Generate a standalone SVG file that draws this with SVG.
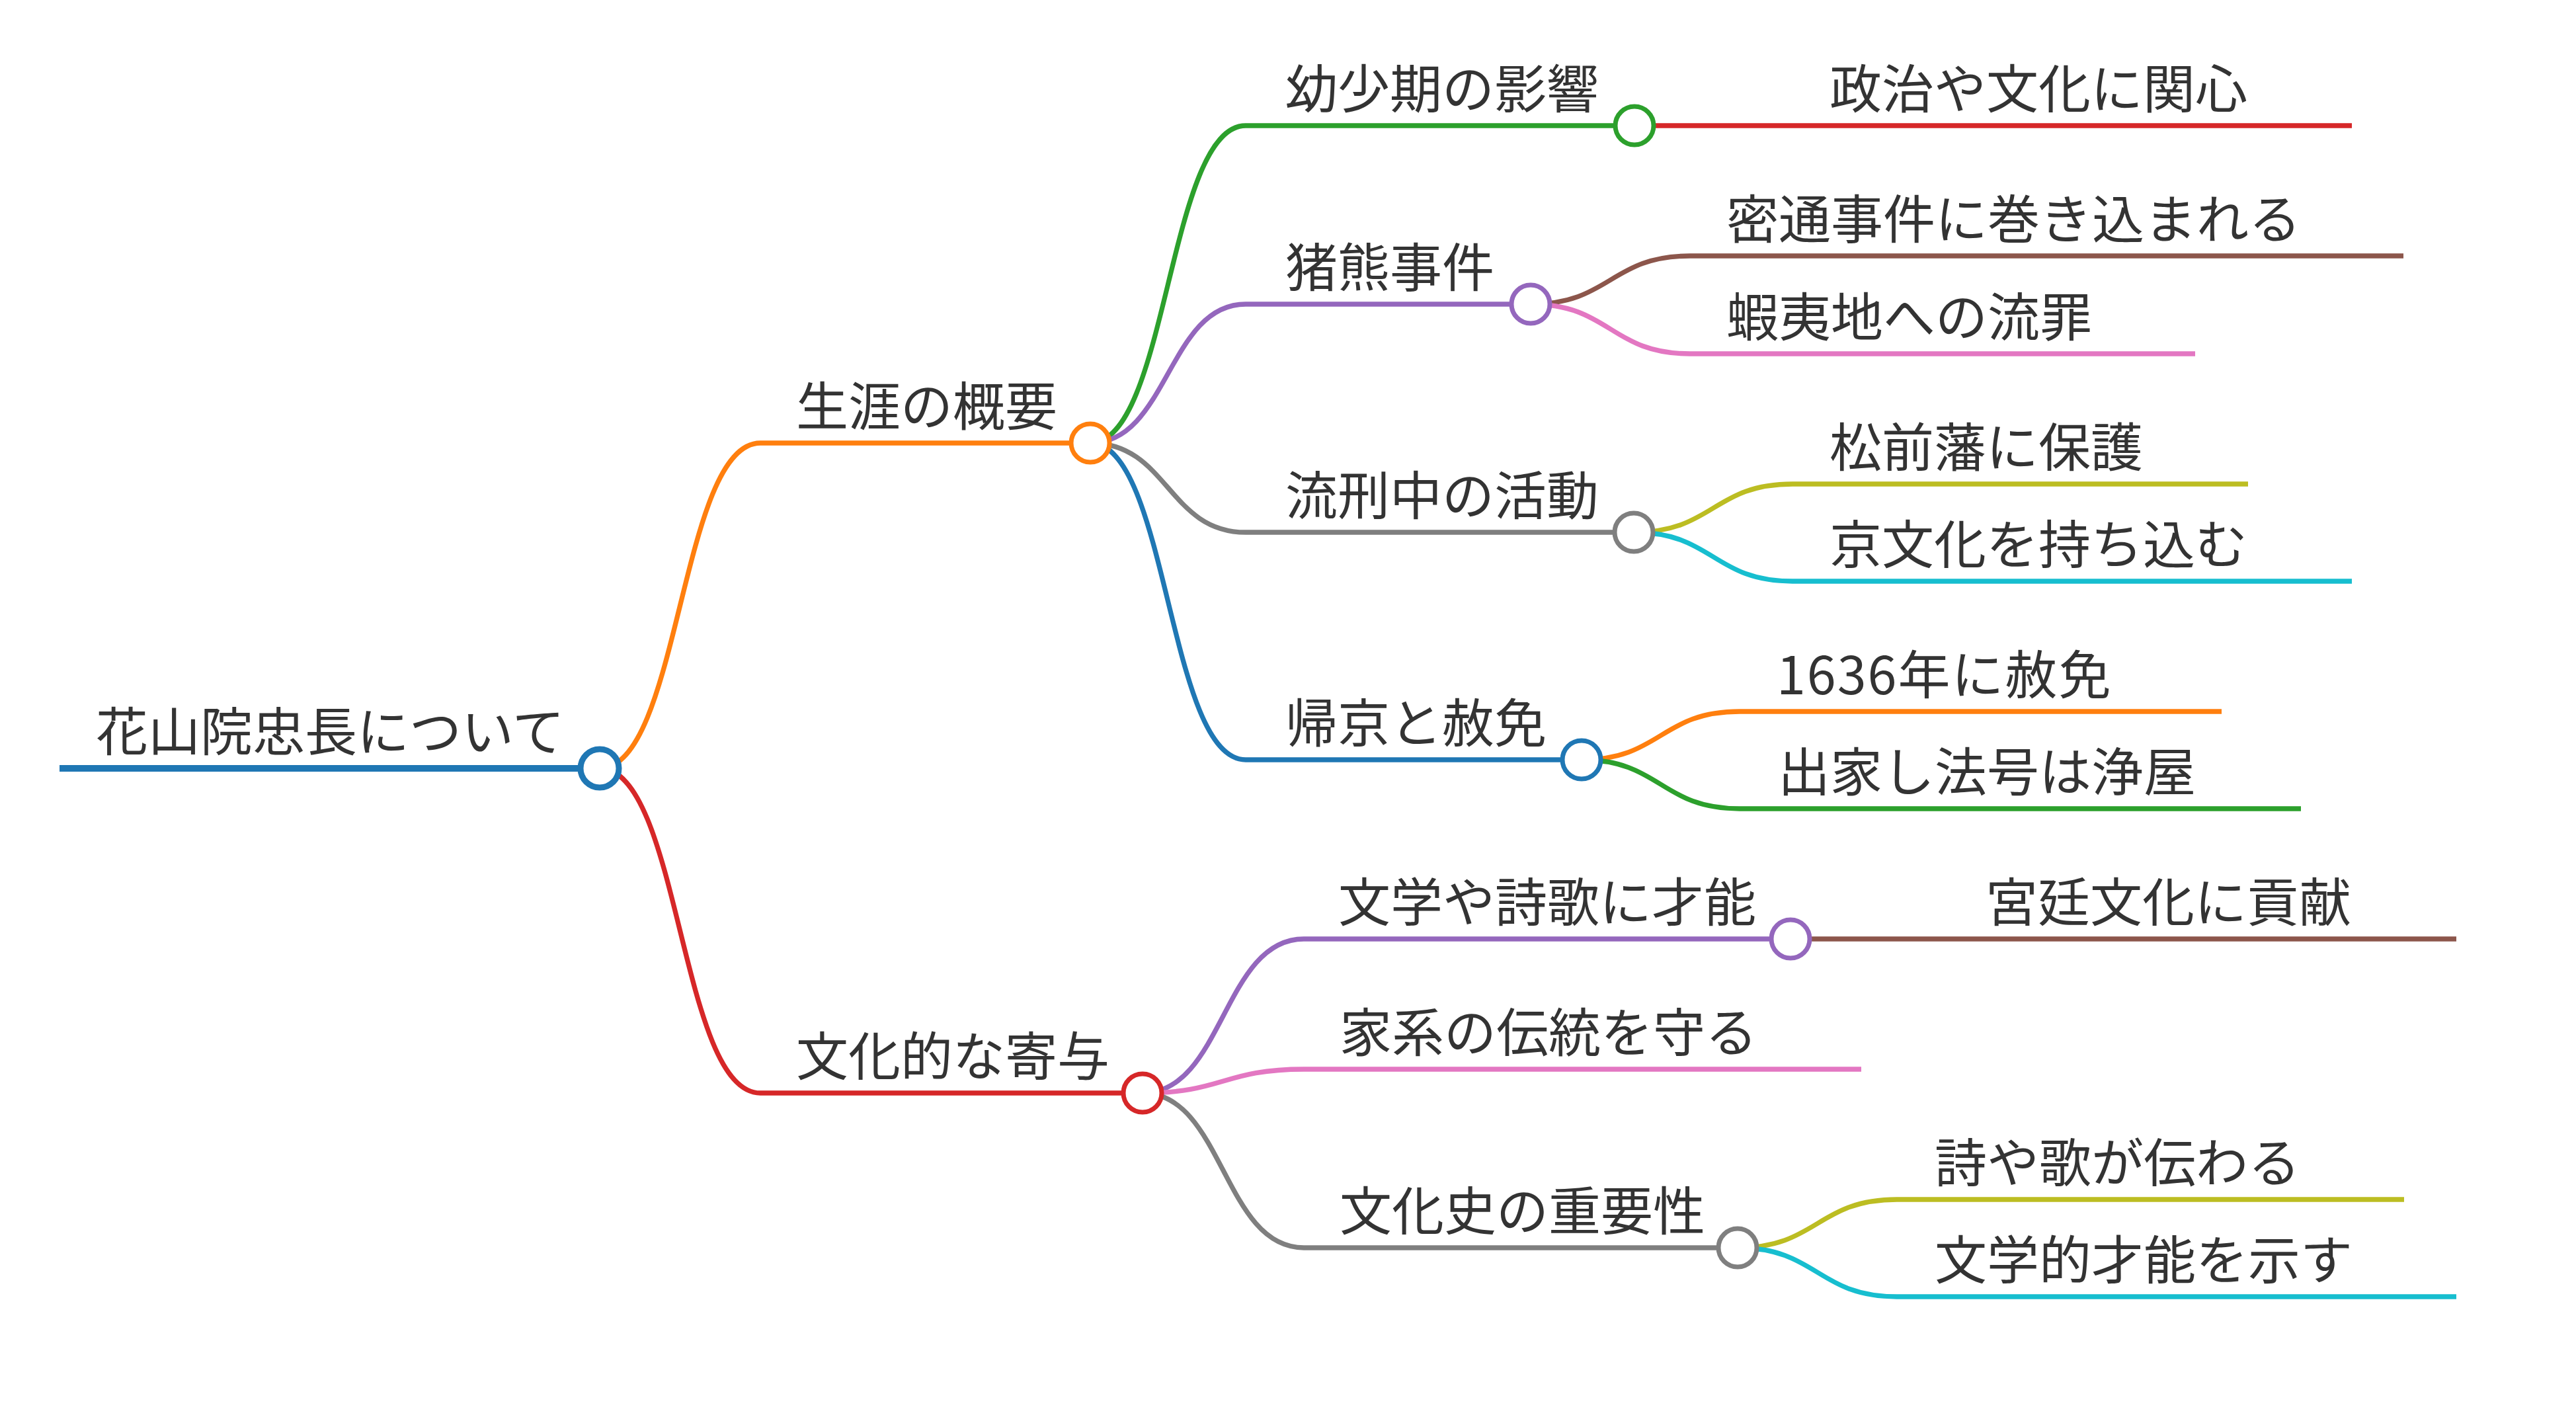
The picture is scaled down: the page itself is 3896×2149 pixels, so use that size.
<svg xmlns="http://www.w3.org/2000/svg" width="3896" height="2149" viewBox="0 0 3896 2149">
<style>
text{font-family:"Noto Sans CJK JP","Noto Sans CJK SC",sans-serif;font-size:79px;fill:#333333}
.ln{fill:none;stroke-width:7.3;stroke-linecap:butt}
.lk{fill:none;stroke-width:7.3}
.c{fill:#ffffff;stroke-width:7}
</style>
<rect width="3896" height="2149" fill="#ffffff"/>
<g id="connectors">
<path class="lk" stroke="#ff7f0e" d="M907,1162 C1028.5,1162 1028.5,670 1150,670"/>
<path class="lk" stroke="#d62728" d="M907,1162 C1028.5,1162 1028.5,1653 1150,1653"/>
<path class="lk" stroke="#2ca02c" d="M1649,670 C1766.5,670 1766.5,190 1884,190"/>
<path class="lk" stroke="#9467bd" d="M1649,670 C1766.5,670 1766.5,460 1884,460"/>
<path class="lk" stroke="#7f7f7f" d="M1649,670 C1766.5,670 1766.5,805 1884,805"/>
<path class="lk" stroke="#1f77b4" d="M1649,670 C1766.5,670 1766.5,1149 1884,1149"/>
<path class="lk" stroke="#d62728" d="M2472,190 L2711,190"/>
<path class="lk" stroke="#8c564b" d="M2315,460 C2435.5,460 2435.5,387 2556,387"/>
<path class="lk" stroke="#e377c2" d="M2315,460 C2435.5,460 2435.5,535 2556,535"/>
<path class="lk" stroke="#bcbd22" d="M2471,805 C2591,805 2591,732 2711,732"/>
<path class="lk" stroke="#17becf" d="M2471,805 C2591,805 2591,879 2711,879"/>
<path class="lk" stroke="#ff7f0e" d="M2392,1149 C2511.5,1149 2511.5,1076 2631,1076"/>
<path class="lk" stroke="#2ca02c" d="M2392,1149 C2511.5,1149 2511.5,1223 2631,1223"/>
<path class="lk" stroke="#9467bd" d="M1728,1653 C1850,1653 1850,1420 1972,1420"/>
<path class="lk" stroke="#e377c2" d="M1728,1653 C1850,1653 1850,1617 1972,1617"/>
<path class="lk" stroke="#7f7f7f" d="M1728,1653 C1850,1653 1850,1887 1972,1887"/>
<path class="lk" stroke="#8c564b" d="M2708,1420 L2949,1420"/>
<path class="lk" stroke="#bcbd22" d="M2628,1887 C2748.5,1887 2748.5,1814 2869,1814"/>
<path class="lk" stroke="#17becf" d="M2628,1887 C2748.5,1887 2748.5,1961 2869,1961"/>
</g>
<g id="root">
<line class="ln" stroke="#1f77b4" style="stroke-width:10" x1="90" y1="1162" x2="907" y2="1162"/>
<text x="145" y="1136">花山院忠長について</text>
<circle class="c" stroke="#1f77b4" style="stroke-width:9" cx="907" cy="1162" r="29"/>
</g>
<g id="n-shogai">
<line class="ln" stroke="#ff7f0e" x1="1150" y1="670" x2="1649" y2="670"/>
<text x="1204" y="644">生涯の概要</text>
<circle class="c" stroke="#ff7f0e" cx="1649" cy="670" r="29"/>
</g>
<g id="n-bunka">
<line class="ln" stroke="#d62728" x1="1150" y1="1653" x2="1728" y2="1653"/>
<text x="1204" y="1627">文化的な寄与</text>
<circle class="c" stroke="#d62728" cx="1728" cy="1653" r="29"/>
</g>
<g id="n-yoshoki">
<line class="ln" stroke="#2ca02c" x1="1884" y1="190" x2="2472" y2="190"/>
<text x="1944" y="164">幼少期の影響</text>
<circle class="c" stroke="#2ca02c" cx="2472" cy="190" r="29"/>
</g>
<g id="n-seiji">
<line class="ln" stroke="#d62728" x1="2711" y1="190" x2="3557" y2="190"/>
<text x="2767" y="164">政治や文化に関心</text>
</g>
<g id="n-inokuma">
<line class="ln" stroke="#9467bd" x1="1884" y1="460" x2="2315" y2="460"/>
<text x="1944" y="434">猪熊事件</text>
<circle class="c" stroke="#9467bd" cx="2315" cy="460" r="29"/>
</g>
<g id="n-mittsu">
<line class="ln" stroke="#8c564b" x1="2556" y1="387" x2="3635" y2="387"/>
<text x="2611" y="361">密通事件に巻き込まれる</text>
</g>
<g id="n-ezochi">
<line class="ln" stroke="#e377c2" x1="2556" y1="535" x2="3320" y2="535"/>
<text x="2611" y="509">蝦夷地への流罪</text>
</g>
<g id="n-rukei">
<line class="ln" stroke="#7f7f7f" x1="1884" y1="805" x2="2471" y2="805"/>
<text x="1944" y="779">流刑中の活動</text>
<circle class="c" stroke="#7f7f7f" cx="2471" cy="805" r="29"/>
</g>
<g id="n-matsumae">
<line class="ln" stroke="#bcbd22" x1="2711" y1="732" x2="3400" y2="732"/>
<text x="2767" y="706">松前藩に保護</text>
</g>
<g id="n-kyobunka">
<line class="ln" stroke="#17becf" x1="2711" y1="879" x2="3557" y2="879"/>
<text x="2767" y="853">京文化を持ち込む</text>
</g>
<g id="n-kikyo">
<line class="ln" stroke="#1f77b4" x1="1884" y1="1149" x2="2392" y2="1149"/>
<text x="1944" y="1123">帰京と赦免</text>
<circle class="c" stroke="#1f77b4" cx="2392" cy="1149" r="29"/>
</g>
<g id="n-1636">
<line class="ln" stroke="#ff7f0e" x1="2631" y1="1076" x2="3360" y2="1076"/>
<text x="2687" y="1050" letter-spacing="2">1636年に赦免</text>
</g>
<g id="n-shukke">
<line class="ln" stroke="#2ca02c" x1="2631" y1="1223" x2="3480" y2="1223"/>
<text x="2689" y="1197">出家し法号は浄屋</text>
</g>
<g id="n-bungaku">
<line class="ln" stroke="#9467bd" x1="1972" y1="1420" x2="2708" y2="1420"/>
<text x="2024" y="1394">文学や詩歌に才能</text>
<circle class="c" stroke="#9467bd" cx="2708" cy="1420" r="29"/>
</g>
<g id="n-kyutei">
<line class="ln" stroke="#8c564b" x1="2949" y1="1420" x2="3715" y2="1420"/>
<text x="3003" y="1394">宮廷文化に貢献</text>
</g>
<g id="n-kakei">
<line class="ln" stroke="#e377c2" x1="1972" y1="1617" x2="2815" y2="1617"/>
<text x="2026" y="1591">家系の伝統を守る</text>
</g>
<g id="n-bunkashi">
<line class="ln" stroke="#7f7f7f" x1="1972" y1="1887" x2="2628" y2="1887"/>
<text x="2026" y="1861">文化史の重要性</text>
<circle class="c" stroke="#7f7f7f" cx="2628" cy="1887" r="29"/>
</g>
<g id="n-shiya">
<line class="ln" stroke="#bcbd22" x1="2869" y1="1814" x2="3636" y2="1814"/>
<text x="2926" y="1788">詩や歌が伝わる</text>
</g>
<g id="n-bungakuteki">
<line class="ln" stroke="#17becf" x1="2869" y1="1961" x2="3715" y2="1961"/>
<text x="2926" y="1935">文学的才能を示す</text>
</g>
</svg>
